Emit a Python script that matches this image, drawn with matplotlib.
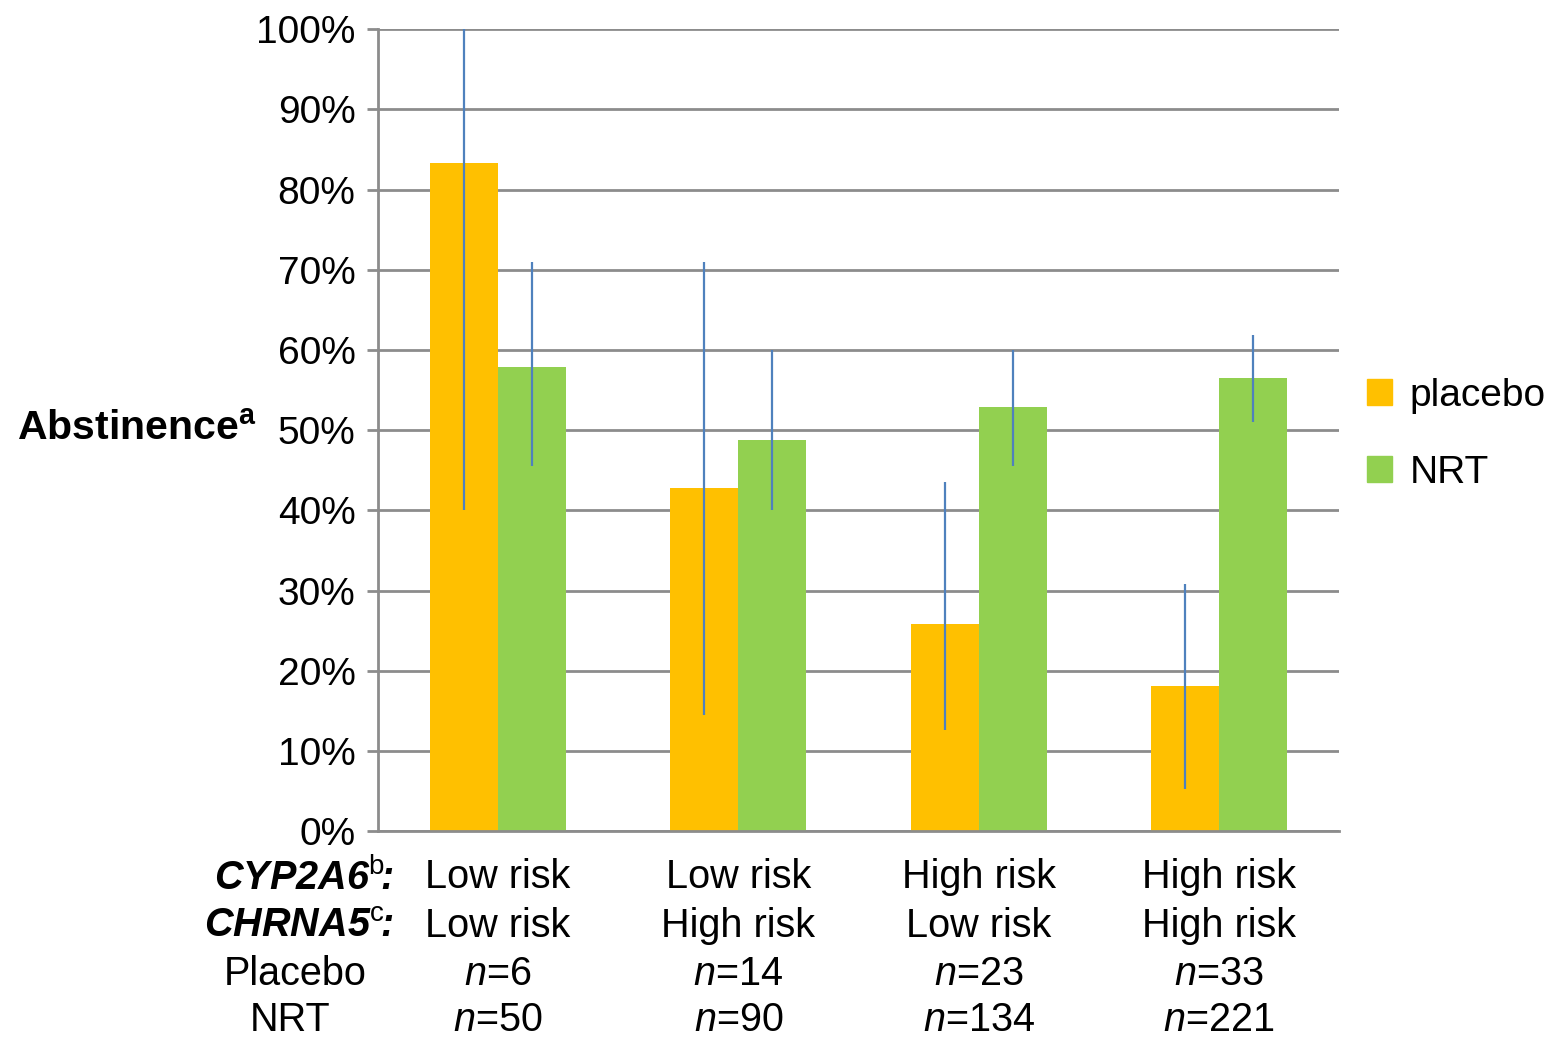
import numpy as np
import matplotlib
matplotlib.use('Agg')
from matplotlib import pyplot as plt
from matplotlib import transforms
from matplotlib.patches import Patch

plt.rcParams['font.family'] = ['Liberation Sans', 'DejaVu Sans']
plt.rcParams['mathtext.fontset'] = 'custom'
plt.rcParams['mathtext.rm'] = 'Liberation Sans'
plt.rcParams['mathtext.it'] = 'Liberation Sans:italic'
plt.rcParams['mathtext.bf'] = 'Liberation Sans:bold'
plt.rcParams['mathtext.bfit'] = 'Liberation Sans:italic:bold'

# data (percent)
cyp2a6 = ['Low risk', 'Low risk', 'High risk', 'High risk']
chrna5 = ['Low risk', 'High risk', 'Low risk', 'High risk']
n_placebo = [6, 14, 23, 33]
n_nrt = [50, 90, 134, 221]
placebo = [83.3, 42.8, 25.8, 18.1]
placebo_lo = [40.0, 14.5, 12.6, 5.2]
placebo_hi = [100.0, 71.0, 43.5, 30.8]
nrt = [57.9, 48.8, 52.9, 56.5]
nrt_lo = [45.5, 40.0, 45.5, 51.0]
nrt_hi = [71.0, 60.0, 60.0, 61.8]

orange, green, blue = '#FFC000', '#92D050', '#4F81BD'
grid_c = '#8C8C8C'
fs = 28.5

fig = plt.figure(figsize=(15.61, 10.39), dpi=100)
ax = fig.add_axes([0.242, 0.2, 0.616, 0.772])

x = np.arange(len(placebo))
w = 0.283
ax.bar(x - w/2, placebo, w, color=orange, zorder=2)
ax.bar(x + w/2, nrt, w, color=green, zorder=2)
p, nn = np.array(placebo), np.array(nrt)
ax.errorbar(x - w/2, p, yerr=[p - placebo_lo, np.array(placebo_hi) - p], fmt='none',
            ecolor=blue, elinewidth=1.6, capsize=0, zorder=3)
ax.errorbar(x + w/2, nn, yerr=[nn - nrt_lo, np.array(nrt_hi) - nn], fmt='none',
            ecolor=blue, elinewidth=1.6, capsize=0, zorder=3)

ax.set_xlim(-0.5, 3.5)
ax.set_ylim(0, 100)
ax.set_yticks(np.arange(0, 101, 10))
ax.set_yticklabels([f'{v}%' for v in range(0, 101, 10)], fontsize=28)
ax.set_xticks([])
ax.yaxis.grid(True, color=grid_c, lw=2, zorder=0)
ax.set_axisbelow(True)
for s in ('top', 'right'):
    ax.spines[s].set_visible(False)
ax.spines['left'].set_color(grid_c)
ax.spines['left'].set_linewidth(2)
ax.spines['bottom'].set_color(grid_c)
ax.spines['bottom'].set_linewidth(2)
ax.tick_params(axis='y', length=8, width=2, color=grid_c, pad=8)

fig.text(0.011, 0.588, r'$\mathbf{Abstinence}^{\mathbf{a}}$', fontsize=29.5, va='center', ha='left')

# table below the bars
tr = transforms.blended_transform_factory(ax.transData, fig.transFigure)
rows_y = [0.1555, 0.109, 0.0625, 0.0185]
for i in range(len(placebo)):
    ax.text(i, rows_y[0], cyp2a6[i], transform=tr, ha='center', va='center', fontsize=fs)
    ax.text(i, rows_y[1], chrna5[i], transform=tr, ha='center', va='center', fontsize=fs)
    ax.text(i, rows_y[2], f'$n$={n_placebo[i]}', transform=tr, ha='center', va='center', fontsize=fs)
    ax.text(i, rows_y[3], f'$n$={n_nrt[i]}', transform=tr, ha='center', va='center', fontsize=fs)
fig.text(0.252, rows_y[0], r'$\mathbfit{CYP2A6}^{\mathrm{b}}\!\!\mathbfit{:}$', ha='right', va='center', fontsize=fs)
fig.text(0.252, rows_y[1], r'$\mathbfit{CHRNA5}^{\mathrm{c}}\!\!\mathbfit{:}$', ha='right', va='center', fontsize=fs)
fig.text(0.189, rows_y[2], 'Placebo', ha='center', va='center', fontsize=fs)
fig.text(0.186, rows_y[3], 'NRT', ha='center', va='center', fontsize=fs)

handles = [Patch(color=orange), Patch(color=green)]
fig.legend(handles, ['placebo', 'NRT'], loc='center left', bbox_to_anchor=(0.863, 0.582),
           frameon=False, fontsize=28, handlelength=0.65, handleheight=0.65,
           handletextpad=0.45, labelspacing=1.05, borderpad=0)

fig.savefig('out.png', dpi=100)
